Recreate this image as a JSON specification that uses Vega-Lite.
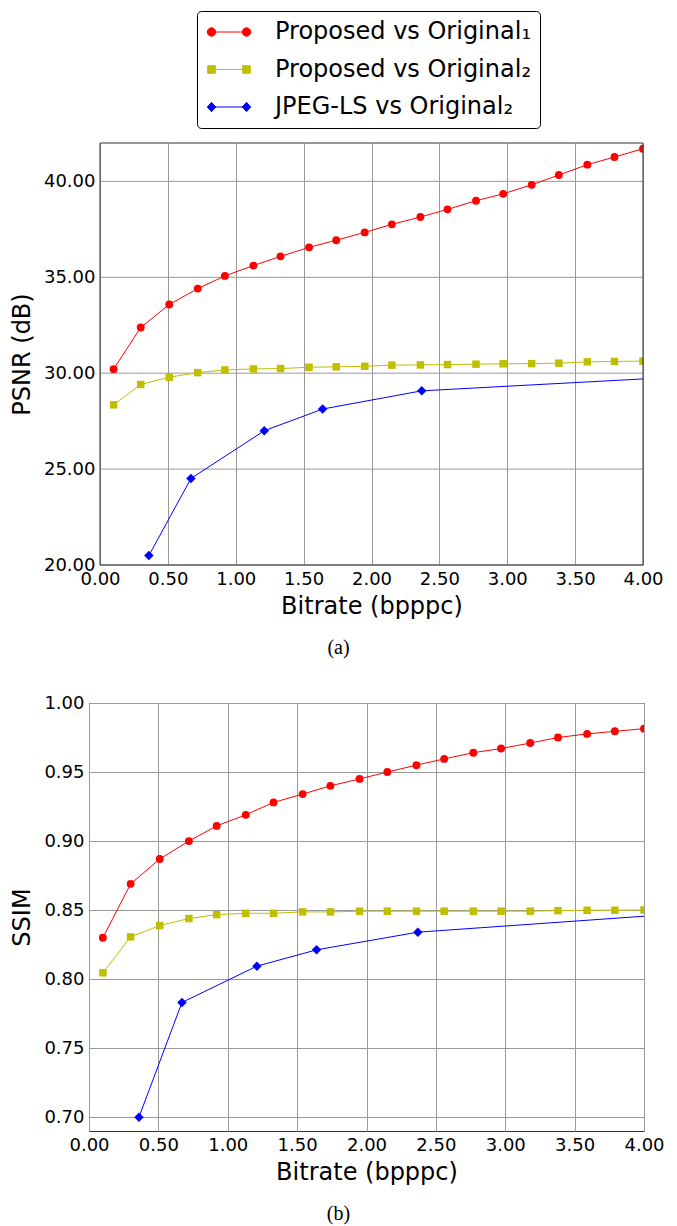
{
  "$schema": "https://vega.github.io/schema/vega-lite/v6.json",
  "padding": {"left": 10, "top": 10, "right": 0, "bottom": 0},
  "background": "white",
  "datasets": {
    "psnr": [
      {"s": "Proposed vs Original\u2081", "x": 0.10, "y": 30.21},
      {"s": "Proposed vs Original\u2081", "x": 0.30, "y": 32.38},
      {"s": "Proposed vs Original\u2081", "x": 0.51, "y": 33.58},
      {"s": "Proposed vs Original\u2081", "x": 0.72, "y": 34.41},
      {"s": "Proposed vs Original\u2081", "x": 0.92, "y": 35.07},
      {"s": "Proposed vs Original\u2081", "x": 1.13, "y": 35.61},
      {"s": "Proposed vs Original\u2081", "x": 1.33, "y": 36.09},
      {"s": "Proposed vs Original\u2081", "x": 1.54, "y": 36.56},
      {"s": "Proposed vs Original\u2081", "x": 1.74, "y": 36.93},
      {"s": "Proposed vs Original\u2081", "x": 1.95, "y": 37.34},
      {"s": "Proposed vs Original\u2081", "x": 2.15, "y": 37.76},
      {"s": "Proposed vs Original\u2081", "x": 2.36, "y": 38.14},
      {"s": "Proposed vs Original\u2081", "x": 2.56, "y": 38.54},
      {"s": "Proposed vs Original\u2081", "x": 2.77, "y": 38.99},
      {"s": "Proposed vs Original\u2081", "x": 2.97, "y": 39.35},
      {"s": "Proposed vs Original\u2081", "x": 3.18, "y": 39.82},
      {"s": "Proposed vs Original\u2081", "x": 3.38, "y": 40.33},
      {"s": "Proposed vs Original\u2081", "x": 3.59, "y": 40.87},
      {"s": "Proposed vs Original\u2081", "x": 3.79, "y": 41.27},
      {"s": "Proposed vs Original\u2081", "x": 4.00, "y": 41.70},
      {"s": "Proposed vs Original\u2082", "x": 0.10, "y": 28.35},
      {"s": "Proposed vs Original\u2082", "x": 0.30, "y": 29.41},
      {"s": "Proposed vs Original\u2082", "x": 0.51, "y": 29.79},
      {"s": "Proposed vs Original\u2082", "x": 0.72, "y": 30.03},
      {"s": "Proposed vs Original\u2082", "x": 0.92, "y": 30.17},
      {"s": "Proposed vs Original\u2082", "x": 1.13, "y": 30.22},
      {"s": "Proposed vs Original\u2082", "x": 1.33, "y": 30.24},
      {"s": "Proposed vs Original\u2082", "x": 1.54, "y": 30.31},
      {"s": "Proposed vs Original\u2082", "x": 1.74, "y": 30.33},
      {"s": "Proposed vs Original\u2082", "x": 1.95, "y": 30.36},
      {"s": "Proposed vs Original\u2082", "x": 2.15, "y": 30.42},
      {"s": "Proposed vs Original\u2082", "x": 2.36, "y": 30.43},
      {"s": "Proposed vs Original\u2082", "x": 2.56, "y": 30.45},
      {"s": "Proposed vs Original\u2082", "x": 2.77, "y": 30.47},
      {"s": "Proposed vs Original\u2082", "x": 2.97, "y": 30.49},
      {"s": "Proposed vs Original\u2082", "x": 3.18, "y": 30.50},
      {"s": "Proposed vs Original\u2082", "x": 3.38, "y": 30.52},
      {"s": "Proposed vs Original\u2082", "x": 3.59, "y": 30.59},
      {"s": "Proposed vs Original\u2082", "x": 3.79, "y": 30.61},
      {"s": "Proposed vs Original\u2082", "x": 4.00, "y": 30.63},
      {"s": "JPEG-LS vs Original\u2082", "x": 0.36, "y": 20.49},
      {"s": "JPEG-LS vs Original\u2082", "x": 0.67, "y": 24.51},
      {"s": "JPEG-LS vs Original\u2082", "x": 1.21, "y": 27.00},
      {"s": "JPEG-LS vs Original\u2082", "x": 1.64, "y": 28.13},
      {"s": "JPEG-LS vs Original\u2082", "x": 2.37, "y": 29.08},
      {"s": "JPEG-LS vs Original\u2082", "x": 4.50, "y": 29.89}
    ],
    "ssim": [
      {"s": "Proposed vs Original\u2081", "x": 0.10, "y": 0.830},
      {"s": "Proposed vs Original\u2081", "x": 0.30, "y": 0.869},
      {"s": "Proposed vs Original\u2081", "x": 0.51, "y": 0.887},
      {"s": "Proposed vs Original\u2081", "x": 0.72, "y": 0.900},
      {"s": "Proposed vs Original\u2081", "x": 0.92, "y": 0.911},
      {"s": "Proposed vs Original\u2081", "x": 1.13, "y": 0.919},
      {"s": "Proposed vs Original\u2081", "x": 1.33, "y": 0.928},
      {"s": "Proposed vs Original\u2081", "x": 1.54, "y": 0.934},
      {"s": "Proposed vs Original\u2081", "x": 1.74, "y": 0.940},
      {"s": "Proposed vs Original\u2081", "x": 1.95, "y": 0.945},
      {"s": "Proposed vs Original\u2081", "x": 2.15, "y": 0.950},
      {"s": "Proposed vs Original\u2081", "x": 2.36, "y": 0.955},
      {"s": "Proposed vs Original\u2081", "x": 2.56, "y": 0.9595},
      {"s": "Proposed vs Original\u2081", "x": 2.77, "y": 0.964},
      {"s": "Proposed vs Original\u2081", "x": 2.97, "y": 0.967},
      {"s": "Proposed vs Original\u2081", "x": 3.18, "y": 0.971},
      {"s": "Proposed vs Original\u2081", "x": 3.38, "y": 0.975},
      {"s": "Proposed vs Original\u2081", "x": 3.59, "y": 0.9776},
      {"s": "Proposed vs Original\u2081", "x": 3.79, "y": 0.9795},
      {"s": "Proposed vs Original\u2081", "x": 4.00, "y": 0.9814},
      {"s": "Proposed vs Original\u2082", "x": 0.10, "y": 0.8046},
      {"s": "Proposed vs Original\u2082", "x": 0.30, "y": 0.8306},
      {"s": "Proposed vs Original\u2082", "x": 0.51, "y": 0.8388},
      {"s": "Proposed vs Original\u2082", "x": 0.72, "y": 0.8439},
      {"s": "Proposed vs Original\u2082", "x": 0.92, "y": 0.8467},
      {"s": "Proposed vs Original\u2082", "x": 1.13, "y": 0.8477},
      {"s": "Proposed vs Original\u2082", "x": 1.33, "y": 0.8477},
      {"s": "Proposed vs Original\u2082", "x": 1.54, "y": 0.8487},
      {"s": "Proposed vs Original\u2082", "x": 1.74, "y": 0.8487},
      {"s": "Proposed vs Original\u2082", "x": 1.95, "y": 0.8492},
      {"s": "Proposed vs Original\u2082", "x": 2.15, "y": 0.8492},
      {"s": "Proposed vs Original\u2082", "x": 2.36, "y": 0.8492},
      {"s": "Proposed vs Original\u2082", "x": 2.56, "y": 0.8492},
      {"s": "Proposed vs Original\u2082", "x": 2.77, "y": 0.8492},
      {"s": "Proposed vs Original\u2082", "x": 2.97, "y": 0.8492},
      {"s": "Proposed vs Original\u2082", "x": 3.18, "y": 0.8492},
      {"s": "Proposed vs Original\u2082", "x": 3.38, "y": 0.8496},
      {"s": "Proposed vs Original\u2082", "x": 3.59, "y": 0.8499},
      {"s": "Proposed vs Original\u2082", "x": 3.79, "y": 0.8499},
      {"s": "Proposed vs Original\u2082", "x": 4.00, "y": 0.8501},
      {"s": "JPEG-LS vs Original\u2082", "x": 0.36, "y": 0.700},
      {"s": "JPEG-LS vs Original\u2082", "x": 0.67, "y": 0.7831},
      {"s": "JPEG-LS vs Original\u2082", "x": 1.21, "y": 0.8094},
      {"s": "JPEG-LS vs Original\u2082", "x": 1.64, "y": 0.8212},
      {"s": "JPEG-LS vs Original\u2082", "x": 2.37, "y": 0.8340},
      {"s": "JPEG-LS vs Original\u2082", "x": 4.50, "y": 0.8491}
    ],
    "psnrGrid": [{"g": 20}, {"g": 25}, {"g": 30}, {"g": 35}, {"g": 40}]
  },
  "resolve": {"legend": {"color": "independent"}},
  "vconcat": [
    {
      "width": 554,
      "height": 422,
      "view": {"stroke": null},
      "title": {"text": "(a)", "orient": "bottom", "anchor": "middle", "frame": "group", "font": "Liberation Serif", "fontSize": 20, "fontWeight": "normal", "color": "#000", "offset": 20, "dx": -27.5},
      "layer": [
        {
          "data": {"name": "psnrGrid"},
          "mark": {"type": "rule", "color": "#999", "strokeWidth": 1},
          "encoding": {
            "y": {"field": "g", "type": "quantitative", "scale": {"domain": [20, 42], "nice": false, "zero": false},
                  "axis": {"title": "PSNR (dB)", "values": [20, 25, 30, 35, 40], "format": ".2f", "grid": false, "offset": -11}},
            "x": {"datum": 0, "type": "quantitative", "scale": {"domain": [0, 4], "range": [11, 554], "nice": false, "zero": false},
                  "axis": {"title": "Bitrate (bpppc)", "values": [0, 0.5, 1, 1.5, 2, 2.5, 3, 3.5, 4], "format": ".2f"}},
            "x2": {"datum": 4}
          }
        },
        {
          "data": {"name": "psnr"},
          "mark": {"type": "line", "clip": true, "strokeWidth": 1},
          "encoding": {
            "x": {"field": "x", "type": "quantitative", "axis": {"title": "Bitrate (bpppc)", "values": [0, 0.5, 1, 1.5, 2, 2.5, 3, 3.5, 4], "format": ".2f"}},
            "y": {"field": "y", "type": "quantitative", "axis": {"title": "PSNR (dB)", "values": [20, 25, 30, 35, 40], "format": ".2f", "grid": false, "offset": -11}},
            "color": {"field": "s", "type": "nominal",
                      "scale": {"domain": ["Proposed vs Original\u2081", "Proposed vs Original\u2082", "JPEG-LS vs Original\u2082"], "range": ["#ff0000", "#bfbf00", "#0000ff"]},
                      "legend": {
                        "orient": "none", "legendX": 108, "legendY": -132, "title": null,
                        "strokeColor": "#000", "fillColor": "#fff", "cornerRadius": 4, "padding": 9,
                        "labelFont": "DejaVu Sans", "labelFontSize": 24, "labelColor": "#000", "labelOffset": 45, "labelLimit": 400,
                        "symbolSize": 400, "symbolStrokeWidth": 1, "rowPadding": 13.5,
                        "encode": {"symbols": {"update": {
                          "shape": {"signal": "datum.value === 'JPEG-LS vs Original\u2082' ? 'M-0.65,0H2.85M-1.07,0L-0.65,-0.47L-0.23,0L-0.65,0.47ZM2.43,0L2.85,-0.47L3.27,0L2.85,0.47Z' : (datum.value === 'Proposed vs Original\u2081' ? 'M-0.65,0H2.85M-1.07,0a0.42,0.42 0 1,0 0.84,0a0.42,0.42 0 1,0 -0.84,0ZM2.43,0a0.42,0.42 0 1,0 0.84,0a0.42,0.42 0 1,0 -0.84,0Z' : 'M-0.65,0H2.85M-1.03,-0.38h0.76v0.76h-0.76ZM2.47,-0.38h0.76v0.76h-0.76Z')"},
                          "stroke": {"signal": "datum.value === 'JPEG-LS vs Original\u2082' ? '#0000ff' : (datum.value === 'Proposed vs Original\u2081' ? '#ff0000' : '#bfbf00')"},
                          "fill": {"signal": "datum.value === 'JPEG-LS vs Original\u2082' ? '#0000ff' : (datum.value === 'Proposed vs Original\u2081' ? '#ff0000' : '#bfbf00')"},
                          "strokeWidth": {"value": 1},
                          "size": {"value": 400},
                          "opacity": {"value": 1}
                        }}}
                      }}
          }
        },
        {
          "data": {"name": "psnr"},
          "transform": [{"filter": "datum.s === 'Proposed vs Original\u2081'"}],
          "mark": {"type": "point", "shape": "circle", "size": 62, "filled": true, "opacity": 1, "color": "#ff0000", "clip": true},
          "encoding": {"x": {"field": "x", "type": "quantitative"}, "y": {"field": "y", "type": "quantitative"}}
        },
        {
          "data": {"name": "psnr"},
          "transform": [{"filter": "datum.s === 'Proposed vs Original\u2082'"}],
          "mark": {"type": "point", "shape": "square", "size": 56, "filled": true, "opacity": 1, "color": "#bfbf00", "clip": true},
          "encoding": {"x": {"field": "x", "type": "quantitative"}, "y": {"field": "y", "type": "quantitative"}}
        },
        {
          "data": {"name": "psnr"},
          "transform": [{"filter": "datum.s === 'JPEG-LS vs Original\u2082'"}],
          "mark": {"type": "point", "shape": "diamond", "size": 90, "filled": true, "opacity": 1, "color": "#0000ff", "clip": true},
          "encoding": {"x": {"field": "x", "type": "quantitative"}, "y": {"field": "y", "type": "quantitative"}}
        },
        {
          "data": {"values": [{}]},
          "mark": {"type": "rect", "filled": false, "color": "#333", "strokeWidth": 1},
          "encoding": {"x": {"datum": 0, "type": "quantitative"}, "x2": {"datum": 4}, "y": {"datum": 20, "type": "quantitative"}, "y2": {"datum": 42}}
        }
      ]
    },
    {
      "width": 555,
      "height": 428,
      "data": {"name": "ssim"},
      "title": {"text": "(b)", "orient": "bottom", "anchor": "middle", "frame": "group", "font": "Liberation Serif", "fontSize": 20, "fontWeight": "normal", "color": "#000", "offset": 20, "dx": -28},
      "encoding": {
        "x": {"field": "x", "type": "quantitative", "scale": {"domain": [0, 4], "nice": false, "zero": false},
              "axis": {"title": "Bitrate (bpppc)", "values": [0, 0.5, 1, 1.5, 2, 2.5, 3, 3.5, 4], "format": ".2f"}},
        "y": {"field": "y", "type": "quantitative", "scale": {"domain": [0.69, 1.0], "nice": false, "zero": false},
              "axis": {"title": "SSIM", "values": [0.70, 0.75, 0.80, 0.85, 0.90, 0.95, 1.0], "format": ".2f"}}
      },
      "layer": [
        {"mark": {"type": "line", "clip": true, "strokeWidth": 1},
         "encoding": {"color": {"field": "s", "type": "nominal",
                  "scale": {"domain": ["Proposed vs Original\u2081", "Proposed vs Original\u2082", "JPEG-LS vs Original\u2082"], "range": ["#ff0000", "#bfbf00", "#0000ff"]},
                  "legend": null}}},
        {"transform": [{"filter": "datum.s === 'Proposed vs Original\u2081'"}],
         "mark": {"type": "point", "shape": "circle", "size": 62, "filled": true, "opacity": 1, "color": "#ff0000", "clip": true}},
        {"transform": [{"filter": "datum.s === 'Proposed vs Original\u2082'"}],
         "mark": {"type": "point", "shape": "square", "size": 56, "filled": true, "opacity": 1, "color": "#bfbf00", "clip": true}},
        {"transform": [{"filter": "datum.s === 'JPEG-LS vs Original\u2082'"}],
         "mark": {"type": "point", "shape": "diamond", "size": 90, "filled": true, "opacity": 1, "color": "#0000ff", "clip": true}}
      ]
    }
  ],
  "spacing": 35,
  "config": {
    "font": "DejaVu Sans",
    "view": {"stroke": "#333", "strokeWidth": 1},
    "axis": {
      "domain": false, "ticks": false,
      "grid": true, "gridColor": "#999", "gridWidth": 1, "gridOpacity": 1,
      "labelFont": "DejaVu Sans", "labelFontSize": 18, "labelColor": "#000", "labelPadding": 5,
      "titleFont": "DejaVu Sans", "titleFontSize": 24, "titleFontWeight": "normal", "titleColor": "#000", "titlePadding": 6,
      "labelOverlap": false, "labelFlush": false
    },
    "axisY": {"titlePadding": 9}
  }
}
